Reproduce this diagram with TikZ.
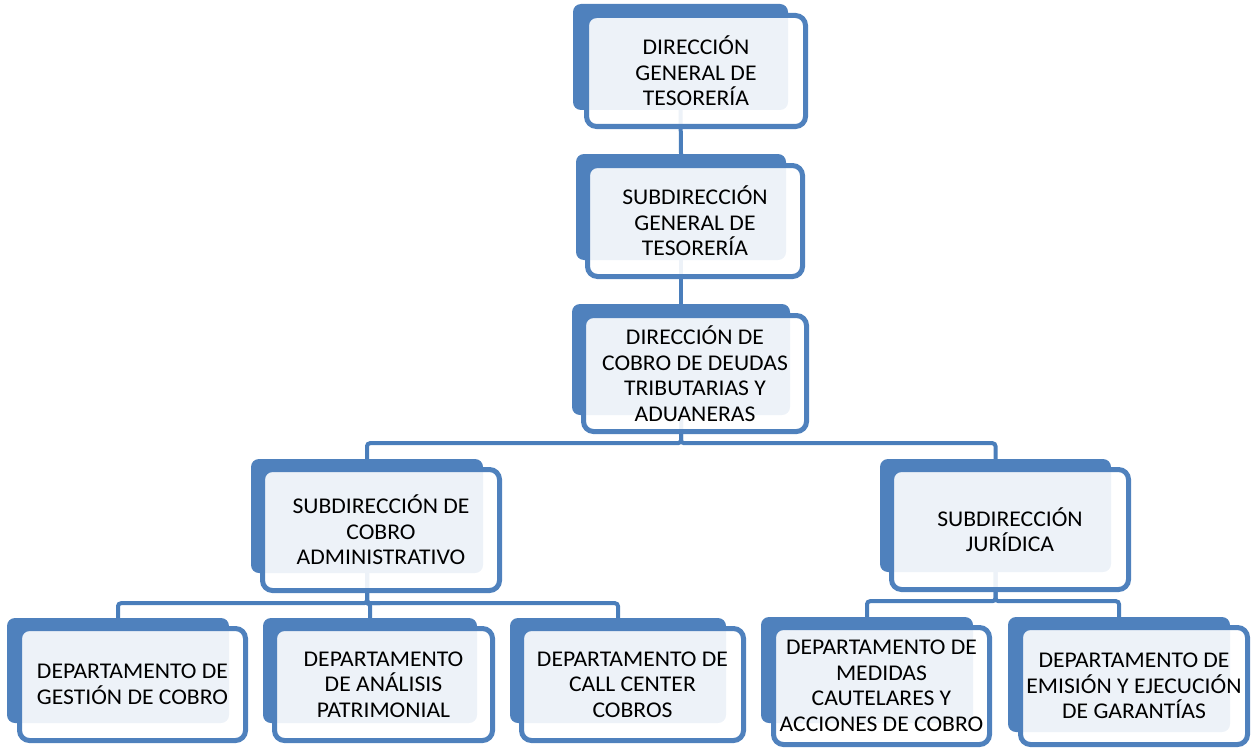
\documentclass[tikz,border=0pt]{standalone}
\usepackage{fontspec}
\setmainfont{Carlito}[FakeStretch=1.05]
\usepackage{tikz}
\usetikzlibrary{positioning,backgrounds}
\definecolor{orgblue}{HTML}{4F81BD}
\definecolor{linkblue}{HTML}{4A7EBB}
\tikzset{
  back/.style={fill=orgblue, rounded corners=8pt, inner sep=0pt,
               minimum width=215, minimum height=106},
  front/.style={draw=orgblue, line width=5pt, fill=white, fill opacity=0.9, text opacity=1,
                rounded corners=10pt, inner sep=1pt, align=center,
                minimum width=220, minimum height=113,
                font=\fontsize{22.5}{25.5}\selectfont},
  link/.style={draw=linkblue, line width=4pt, rounded corners=3pt}
}
\begin{document}
\begin{tikzpicture}[x=1pt, y=-1pt]
  \useasboundingbox (0,0) rectangle (1257,749);

  %% Direction tier
  \node[back] (dgtB) at (680.5,57) {};
  \node[front, minimum width=219, minimum height=111] (dgt) at (696,71)
        {DIRECCIÓN\\GENERAL DE\\TESORERÍA};
  \node[back, minimum width=210] (sgtB) at (681,207) {};
  \node[front, minimum width=215, minimum height=111] (sgt) at (695,221)
        {SUBDIRECCIÓN\\GENERAL DE\\TESORERÍA};
  \node[back, minimum width=218, minimum height=111] (dcdB) at (681,359.5) {};
  \node[front, minimum width=223, minimum height=116] (dcd) at (695,373.5)
        {DIRECCIÓN DE\\COBRO DE DEUDAS\\TRIBUTARIAS Y\\ADUANERAS};

  %% Subdirections
  \node[back, minimum width=232, minimum height=114] (scaB) at (367,516) {};
  \node[front, minimum width=237, minimum height=121] (sca) at (381,530)
        {SUBDIRECCIÓN DE\\COBRO\\ADMINISTRATIVO};
  \node[back, minimum width=231, minimum height=113] (sjB) at (995.5,515.5) {};
  \node[front, minimum width=237, minimum height=120] (sj) at (1010,529.5)
        {SUBDIRECCIÓN\\JURÍDICA};

  %% Departments
  \node[back, minimum width=222, minimum height=105] (dgcB) at (118,670.5) {};
  \node[front, minimum width=226, minimum height=112] (dgc) at (132.5,684.5)
        {DEPARTAMENTO DE\\GESTIÓN DE COBRO};
  \node[back, minimum width=214, minimum height=105] (dapB) at (370,670.5) {};
  \node[front, minimum width=218, minimum height=112] (dap) at (383.5,684.5)
        {DEPARTAMENTO\\DE ANÁLISIS\\PATRIMONIAL};
  \node[back, minimum width=216, minimum height=105] (dccB) at (618,670.5) {};
  \node[front, minimum width=222, minimum height=112] (dcc) at (632.5,684.5)
        {DEPARTAMENTO DE\\CALL CENTER\\COBROS};
  \node[back, minimum width=212, minimum height=106] (dmcB) at (867,670) {};
  \node[front, minimum width=216, minimum height=117] (dmc) at (881.5,686)
        {DEPARTAMENTO DE\\MEDIDAS\\CAUTELARES Y\\ACCIONES DE COBRO};
  \node[back, minimum width=222, minimum height=115] (deeB) at (1119,674.5) {};
  \node[front, minimum width=227, minimum height=117] (dee) at (1134,686)
        {DEPARTAMENTO DE\\EMISIÓN Y EJECUCIÓN\\DE GARANTÍAS};

  %% Links
  \begin{scope}[on background layer]
    \draw[link] (dgtB.south) -- (sgtB.north);
    \draw[link] (sgtB.south) -- (dcdB.north);
    \draw[link] (dcdB.south) -- ++(0,28) -| (scaB.north);
    \draw[link] (dcdB.south) -- ++(0,28) -| (sjB.north);
    \draw[link] (scaB.south) -- ++(0,30) -| (dgcB.north);
    \draw[link] (scaB.south) -- ++(0,30) -| (dapB.north);
    \draw[link] (scaB.south) -- ++(0,30) -| (dccB.north);
    \draw[link] (sjB.south) -- ++(0,29) -| (dmcB.north);
    \draw[link] (sjB.south) -- ++(0,29) -| (deeB.north);
  \end{scope}

\end{tikzpicture}
\end{document}
